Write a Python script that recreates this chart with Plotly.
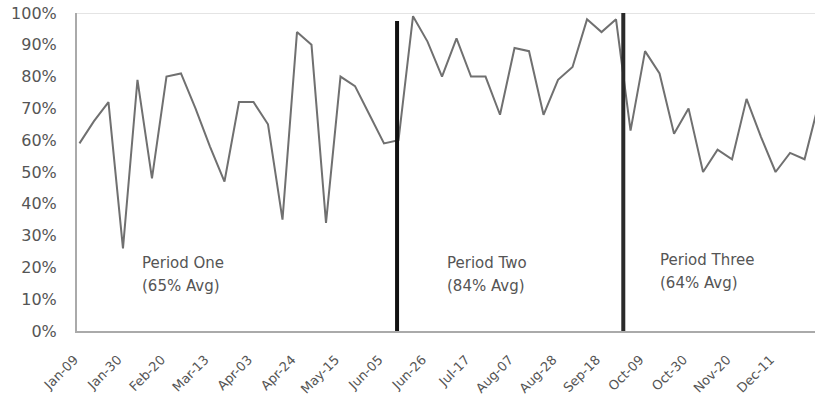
import plotly.graph_objects as go

# Weekly utilisation readings (percent), one per week
values = [59, 66, 72, 26, 79, 48, 80, 81, 70, 58, 47, 72, 72, 65, 35, 94, 90, 34, 80, 77, 68, 59,
          60, 99, 91, 80, 92, 80, 80, 68, 89, 88, 68, 79, 83, 98, 94, 98,
          63, 88, 81, 62, 70, 50, 57, 54, 73, 61, 50, 56, 54, 72]
weeks = list(range(len(values)))

# Category labels shown every third week
tick_weeks = list(range(0, len(values), 3))
tick_labels = ["Jan-09", "Jan-30", "Feb-20", "Mar-13", "Apr-03", "Apr-24", "May-15", "Jun-05",
               "Jun-26", "Jul-17", "Aug-07", "Aug-28", "Sep-18", "Oct-09", "Oct-30", "Nov-20",
               "Dec-11", "Jan-01"]

# Period separators (in week units) and period names
boundaries = [21.9, 37.5]
period_names = ["Period One", "Period Two", "Period Three"]

y_ticks = list(range(0, 101, 10))
y_tick_labels = [f"{v}%" for v in y_ticks]

# Average of each period, for the period captions
edges = [-1] + boundaries + [len(values)]
averages = []
for a, b in zip(edges[:-1], edges[1:]):
    seg = [v for w, v in zip(weeks, values) if a < w < b]
    averages.append(round(sum(seg) / len(seg)))

fig = go.Figure()
fig.add_trace(go.Scatter(x=weeks, y=values, mode="lines",
                         line=dict(color="#707070", width=2), hoverinfo="skip"))

# Vertical separators between periods
sep_tops = [97.5, 100]
sep_colors = ["#111111", "#2a2a2a"]
for bx, top, col in zip(boundaries, sep_tops, sep_colors):
    fig.add_shape(type="line", xref="x", yref="y", x0=bx, x1=bx, y0=0, y1=top,
                  line=dict(color=col, width=4))

# Light top border of the plot area
fig.add_shape(type="line", xref="paper", yref="y", x0=0, x1=1, y0=100, y1=100,
              line=dict(color="#e4e4e4", width=2), layer="below")

# Period captions
caption_x = [4.2, 25.2, 39.9]
caption_y = [[21.5, 14.3], [21.5, 14.3], [22.2, 15.0]]
for name, avg, cx, (y1, y2) in zip(period_names, averages, caption_x, caption_y):
    fig.add_annotation(x=cx, y=y1, xref="x", yref="y", text=name, showarrow=False,
                       xanchor="left", yanchor="middle",
                       font=dict(family="DejaVu Sans", size=15, color="#555555"))
    fig.add_annotation(x=cx, y=y2, xref="x", yref="y", text=f"({avg}% Avg)", showarrow=False,
                       xanchor="left", yanchor="middle",
                       font=dict(family="DejaVu Sans", size=15, color="#555555"))

fig.update_layout(
    width=815, height=398,
    margin=dict(l=77, r=0, t=13, b=67),
    plot_bgcolor="white", paper_bgcolor="white",
    showlegend=False,
    font=dict(family="DejaVu Sans", color="#555555"),
)
fig.update_xaxes(range=[-0.17, 50.72], tickvals=tick_weeks, ticktext=tick_labels,
                 tickangle=-45, showgrid=False, zeroline=False, automargin=False,
                 showline=True, linecolor="#aaaaaa", linewidth=2,
                 ticks="", ticklabelstandoff=14, ticklabelshift=-5,
                 tickfont=dict(family="DejaVu Sans", size=13, color="#555555"))
fig.update_yaxes(range=[0, 100], tickvals=y_ticks, ticktext=y_tick_labels,
                 showgrid=False, zeroline=False, automargin=False,
                 showline=True, linecolor="#aaaaaa", linewidth=2,
                 ticks="", ticklabelstandoff=15,
                 tickfont=dict(family="DejaVu Sans", size=16, color="#555555"))

fig.write_html("out.html")
